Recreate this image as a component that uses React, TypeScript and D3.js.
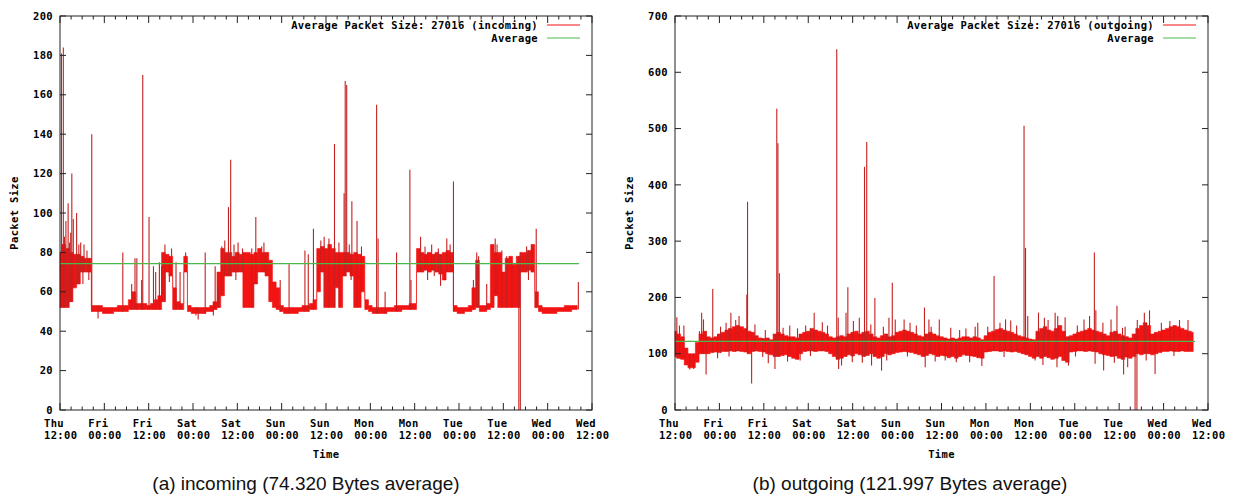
import React from 'react';
import * as d3 from 'd3';

// ---------- data (hours since Thu 12:00) ----------
const DAYS = ['Thu', 'Fri', 'Fri', 'Sat', 'Sat', 'Sun', 'Sun', 'Mon', 'Mon', 'Tue', 'Tue', 'Wed', 'Wed'];
const TIMES = ['12:00', '00:00', '12:00', '00:00', '12:00', '00:00', '12:00', '00:00', '12:00', '00:00', '12:00', '00:00', '12:00'];
const TICK_HOURS = [0, 12, 24, 36, 48, 60, 72, 84, 96, 108, 120, 132, 144];
const DATA_END = 140.5;

const Y_TICKS_IN = [0, 20, 40, 60, 80, 100, 120, 140, 160, 180, 200];
const Y_TICKS_OUT = [0, 100, 200, 300, 400, 500, 600, 700];

// incoming: hourly low / high envelope of the packet size
const IN_LOW = [
  52, 52, 52, 55, 62, 64, 70, 70, 70, 50, 50, 50, 49, 49, 49, 50, 50, 50, 50, 51,
  51, 51, 51, 51, 51, 51, 51, 51, 55, 70, 68, 51, 51, 51, 70, 50, 49, 49, 49, 49,
  50, 50, 51, 52, 58, 68, 68, 70, 70, 70, 52, 52, 52, 64, 70, 70, 68, 55, 52, 51,
  50, 49, 49, 49, 49, 50, 50, 50, 51, 51, 60, 70, 52, 52, 52, 62, 52, 68, 70, 68,
  52, 52, 60, 51, 50, 49, 49, 49, 49, 50, 50, 50, 50, 51, 51, 51, 51, 70, 70, 71,
  70, 71, 70, 69, 66, 70, 70, 50, 49, 49, 50, 50, 51, 52, 50, 50, 51, 52, 58, 52,
  52, 52, 52, 52, 52, 70, 70, 71, 70, 52, 50, 49, 49, 49, 49, 50, 50, 50, 50, 51, 51,
];
const IN_HIGH = [
  80, 84, 82, 80, 79, 79, 78, 77, 77, 53, 53, 53, 52, 52, 52, 52, 53, 53, 53, 56,
  60, 54, 54, 54, 53, 54, 56, 58, 80, 79, 78, 62, 55, 54, 78, 53, 52, 52, 52, 52,
  52, 53, 55, 70, 82, 80, 80, 78, 80, 79, 80, 80, 79, 80, 82, 80, 80, 76, 65, 62,
  53, 52, 52, 52, 52, 52, 53, 53, 54, 56, 82, 83, 82, 84, 82, 80, 80, 80, 80, 79,
  80, 79, 78, 56, 53, 52, 52, 52, 52, 52, 52, 53, 53, 53, 53, 54, 54, 82, 80, 79,
  80, 79, 80, 79, 80, 81, 80, 53, 52, 52, 52, 53, 62, 76, 53, 53, 54, 84, 80, 80,
  70, 77, 78, 74, 78, 80, 80, 81, 84, 60, 53, 52, 52, 52, 52, 52, 52, 53, 53, 53, 53,
];
const IN_SPIKE_HOURS = [
  0.4, 0.9, 1.6, 2.2, 2.6, 3.2, 3.6, 4.5, 5.6, 6.5, 8.6, 17, 19.4, 20.3, 20.8, 22.1, 22.4, 24.1,
  25.3, 25.9, 26.9, 27.5, 28.4, 31.4, 32.5, 34, 39.3, 42, 42.9, 43.8, 45.6, 46.2, 48.2, 49.4,
  51.9, 53, 54.6, 55.7, 59.6, 62, 66.3, 67.2, 68.6, 71.5, 74.3, 76.9, 77.2, 77.6, 79, 80.4,
  85.7, 86.1, 88, 91.1, 94.7, 95, 97.6, 104.7, 106.5, 111.9, 112.8, 115.5, 117.8, 119.6,
  120.9, 122.3, 125.4, 128.9, 140.3,
  1.2, 2.9, 5.1, 7.3, 30.2, 44.6, 47.1, 55.2, 70.6, 72.8, 75.5, 78.3, 81.6, 98.8, 100.6, 102.4,
  105.6, 113.3, 118.3, 126.3, 127.7,
];
const IN_SPIKE_VALUES = [
  181, 184, 96, 105, 85, 120, 97, 100, 85, 84, 140, 80, 64, 77, 77, 66, 170, 98,
  73, 70, 75, 73, 84, 75, 70, 80, 80, 73, 63, 83, 103, 127, 85, 82,
  82, 98, 83, 80, 66, 74, 81, 79, 92, 88, 135, 110, 167, 165, 106, 96,
  155, 87, 60, 80, 122, 66, 88, 87, 116, 66, 80, 64, 87, 81,
  78, 75, 78, 92, 65,
  88, 90, 84, 81, 82, 86, 84, 85, 86, 87, 85, 84, 83, 83, 84, 82,
  84, 78, 84, 83, 84,
];
const IN_DIP_HOURS = [10.3, 36.8, 37.4, 41.5, 56.2, 99.5, 103, 124.2, 124.6, 6.2, 7.8, 29.6, 47.6, 78.8, 101.3, 126.8];
const IN_DIP_VALUES = [46.5, 48, 46, 48, 71, 66, 63, 0, 0, 64, 66, 65, 66, 66, 68, 66];

// outgoing: hourly low / high envelope of the packet size
const OUT_LOW = [
  95, 92, 90, 80, 75, 75, 85, 100, 100, 100, 102, 103, 102, 104, 104, 105, 104, 105, 104, 103,
  100, 104, 105, 104, 103, 100, 98, 95, 95, 97, 98, 95, 92, 90, 100, 104, 105, 105, 104, 105,
  105, 104, 100, 95, 90, 92, 95, 98, 96, 100, 98, 95, 97, 100, 95, 92, 95, 100, 98, 100,
  102, 103, 104, 103, 102, 100, 98, 95, 97, 100, 98, 95, 97, 96, 93, 95, 92, 95, 98, 97,
  96, 95, 93, 92, 103, 104, 105, 105, 104, 105, 104, 103, 104, 102, 100, 98, 95, 92, 95, 92,
  95, 93, 90, 92, 95, 88, 85, 103, 104, 105, 105, 104, 105, 104, 103, 100, 98, 97, 95, 96,
  92, 90, 94, 92, 95, 100, 98, 100, 100, 98, 100, 102, 104, 104, 105, 104, 104, 105, 104, 104, 104,
];
const OUT_HIGH = [
  140, 135, 130, 110, 100, 100, 120, 135, 140, 130, 128, 130, 135, 138, 142, 145, 148, 150, 148, 145,
  140, 138, 132, 128, 127, 128, 125, 135, 138, 135, 132, 130, 130, 128, 135, 138, 140, 145, 142, 140,
  138, 135, 130, 128, 130, 132, 130, 135, 138, 140, 135, 138, 140, 135, 130, 128, 132, 135, 130, 132,
  138, 140, 142, 140, 138, 135, 132, 130, 135, 138, 135, 132, 130, 128, 126, 128, 126, 128, 130, 130,
  128, 130, 128, 125, 132, 138, 140, 143, 145, 142, 140, 138, 135, 132, 130, 128, 126, 125, 140, 145,
  148, 142, 140, 145, 150, 140, 130, 132, 135, 138, 140, 142, 145, 142, 140, 138, 135, 132, 138, 140,
  135, 132, 130, 128, 135, 145, 150, 155, 150, 135, 138, 140, 142, 145, 148, 150, 148, 145, 142, 140, 138,
];
const OUT_SPIKE_HOURS = [
  0.5, 1.2, 7.2, 7.7, 10.2, 15.1, 17.3, 19.4, 19.6, 27.5, 27.8, 28.2, 29.2, 31, 37.6, 43.7, 44.1,
  46.2, 46.7, 48.2, 49.8, 51.2, 51.8, 54, 57.8, 58.7, 59.5, 61.9, 67.4, 68.6, 69.2, 71.4, 74.5,
  81.1, 81.8, 86.2, 87.8, 89.3, 90.7, 94.3, 94.7, 95.3, 98.2, 99.8, 102.7, 103.4, 110.5, 112,
  113.3, 113.7, 115.6, 117.8, 119.4, 120.9, 121.6, 126.8, 128.2, 136.3,
  2.4, 6.6, 12.3, 13.8, 16.4, 21.6, 24.4, 33.1, 35.3, 39.8, 41.2, 52.9, 56.3, 63.5, 65.2, 76.9,
  78.6, 84.5, 92.3, 100.8, 105.4, 108.7, 124.9, 131.4, 133.7, 138.6,
];
const OUT_SPIKE_VALUES = [
  165, 150, 173, 161, 215, 173, 167, 205, 370, 535, 474, 243, 146, 150, 173, 641, 164,
  173, 218, 158, 164, 432, 476, 199, 164, 226, 161, 161, 182, 161, 148, 161, 146,
  148, 155, 238, 155, 161, 159, 505, 288, 167, 173, 164, 173, 167, 161, 167,
  280, 177, 155, 161, 185, 146, 148, 173, 177, 160,
  150, 140, 148, 155, 160, 152, 142, 145, 150, 156, 150, 152, 148, 155, 150, 142,
  145, 148, 150, 160, 165, 150, 160, 155, 158, 160,
];
const OUT_DIP_HOURS = [
  4, 5, 8.4, 20.7, 25.2, 27, 33.8, 44.2, 45, 53.1, 55.8, 67.6, 73, 76, 82.9, 97.3, 103.2,
  106.3, 113.5, 115.8, 121.2, 122.3, 124.3, 124.8, 129.7,
  11.5, 14.6, 23.7, 30.4, 36.6, 47.9, 50.6, 57.2, 62.8, 70.3, 79.6, 88.9, 99.4, 108.2, 118.7, 127.3, 134.8,
];
const OUT_DIP_VALUES = [
  72, 73, 63, 47, 83, 73, 88, 73, 79, 79, 70, 76, 88, 85, 78, 88, 76,
  79, 82, 70, 63, 76, 0, 0, 64,
  92, 95, 94, 86, 96, 85, 84, 88, 95, 86, 85, 94, 80, 95, 84, 88, 96,
];

const IN_AVG = 74.32;
const OUT_AVG = 121.997;

// ---------- styling ----------
const MONO = "'DejaVu Sans Mono', 'Liberation Mono', monospace";
const SANS = "'Liberation Sans', Arial, sans-serif";
const RED = '#f21313';
const SPIKE_RED = '#c42020';
const GREEN = '#4cb84c';

type ChartProps = {
  left: number;
  right: number;
  top: number;
  bottom: number;
  yMax: number;
  yTicks: number[];
  lows: number[];
  highs: number[];
  spikeHours: number[];
  spikeValues: number[];
  dipHours: number[];
  dipValues: number[];
  avg: number;
  legend: string;
  caption: string;
  captionX: number;
};

function Chart(p: ChartProps) {
  const x = d3.scaleLinear().domain([0, 144]).range([p.left, p.right]);
  const y = d3.scaleLinear().domain([0, p.yMax]).range([p.bottom, p.top]);
  const hours = d3.range(p.lows.length);
  const area = d3
    .area<number>()
    .curve(d3.curveStep)
    .x((h) => x(h))
    .y0((h) => y(p.lows[h]))
    .y1((h) => y(p.highs[h]));
  const bucket = (h: number) => Math.max(0, Math.min(p.lows.length - 1, Math.round(h)));
  const minor = d3.range(0, 145, 3).filter((h) => h % 12 !== 0);
  const fs = 10.5;
  const ls = 0.35;
  const cx = (p.left + p.right) / 2;
  const cy = (p.top + p.bottom) / 2;
  return (
    <g>
      {/* data band */}
      <path d={area(hours) || ''} fill={RED} stroke={RED} strokeWidth={0.6} />
      {p.spikeHours.map((h, i) => (
        <line
          key={'s' + i}
          x1={x(h)}
          x2={x(h)}
          y1={y(p.lows[bucket(h)])}
          y2={y(p.spikeValues[i])}
          stroke={SPIKE_RED}
          strokeWidth={1.1}
        />
      ))}
      {p.dipHours.map((h, i) => (
        <line
          key={'d' + i}
          x1={x(h)}
          x2={x(h)}
          y1={y(p.highs[bucket(h)])}
          y2={y(p.dipValues[i])}
          stroke={SPIKE_RED}
          strokeWidth={1.1}
        />
      ))}
      {/* average */}
      <line x1={x(0)} x2={x(DATA_END)} y1={y(p.avg)} y2={y(p.avg)} stroke={GREEN} strokeWidth={1.3} />

      {/* frame */}
      <rect x={p.left} y={p.top} width={p.right - p.left} height={p.bottom - p.top} fill="none" stroke="#222" strokeWidth={1} />

      {/* y ticks */}
      {p.yTicks.map((v) => (
        <g key={'y' + v}>
          <line x1={p.left} x2={p.left + 6} y1={y(v)} y2={y(v)} stroke="#222" />
          <line x1={p.right - 6} x2={p.right} y1={y(v)} y2={y(v)} stroke="#222" />
          <text
            x={p.left - 7}
            y={y(v)}
            dy="0.35em"
            textAnchor="end"
            fontFamily={MONO}
            fontWeight="bold"
            fontSize={fs}
            letterSpacing={ls}
          >
            {v}
          </text>
        </g>
      ))}

      {/* x ticks */}
      {TICK_HOURS.map((h, i) => (
        <g key={'x' + h}>
          <line x1={x(h)} x2={x(h)} y1={p.bottom} y2={p.bottom - 7} stroke="#222" />
          <line x1={x(h)} x2={x(h)} y1={p.top} y2={p.top + 7} stroke="#222" />
          <text x={x(h) - 16} y={p.bottom + 17} fontFamily={MONO} fontWeight="bold" fontSize={fs} letterSpacing={ls}>
            {DAYS[i]}
          </text>
          <text x={x(h) - 16} y={p.bottom + 29} fontFamily={MONO} fontWeight="bold" fontSize={fs} letterSpacing={ls}>
            {TIMES[i]}
          </text>
        </g>
      ))}
      {minor.map((h) => (
        <g key={'m' + h}>
          <line x1={x(h)} x2={x(h)} y1={p.bottom} y2={p.bottom - 3.5} stroke="#222" />
          <line x1={x(h)} x2={x(h)} y1={p.top} y2={p.top + 3.5} stroke="#222" />
        </g>
      ))}

      {/* axis titles */}
      <text x={cx} y={p.bottom + 48} textAnchor="middle" fontFamily={MONO} fontWeight="bold" fontSize={fs} letterSpacing={ls}>
        Time
      </text>
      <text
        transform={`translate(${p.left - 46},${cy}) rotate(-90)`}
        textAnchor="middle"
        dy="0.35em"
        fontFamily={MONO}
        fontWeight="bold"
        fontSize={fs}
        letterSpacing={ls}
      >
        Packet Size
      </text>

      {/* legend */}
      <text x={p.right - 54} y={p.top + 13} textAnchor="end" fontFamily={MONO} fontWeight="bold" fontSize={fs} letterSpacing={ls}>
        {p.legend}
      </text>
      <line x1={p.right - 45} x2={p.right - 12} y1={p.top + 9} y2={p.top + 9} stroke={RED} strokeWidth={1} />
      <text x={p.right - 54} y={p.top + 26} textAnchor="end" fontFamily={MONO} fontWeight="bold" fontSize={fs} letterSpacing={ls}>
        Average
      </text>
      <line x1={p.right - 45} x2={p.right - 12} y1={p.top + 22} y2={p.top + 22} stroke={GREEN} strokeWidth={1} />

      {/* caption */}
      <text x={p.captionX} y={490} textAnchor="middle" fontFamily={SANS} fontSize={19} fill="#111">
        {p.caption}
      </text>
    </g>
  );
}

export default function App() {
  return (
    <svg
      width={1239}
      height={498}
      viewBox="0 0 1239 498"
      style={{ position: 'absolute', left: 0, top: 0, background: '#fff' }}
    >
      <rect x={0} y={0} width={1239} height={498} fill="#fff" />
      <Chart
        left={60}
        right={592}
        top={16}
        bottom={410}
        yMax={200}
        yTicks={Y_TICKS_IN}
        lows={IN_LOW}
        highs={IN_HIGH}
        spikeHours={IN_SPIKE_HOURS}
        spikeValues={IN_SPIKE_VALUES}
        dipHours={IN_DIP_HOURS}
        dipValues={IN_DIP_VALUES}
        avg={IN_AVG}
        legend="Average Packet Size: 27016 (incoming)"
        caption="(a)  incoming (74.320 Bytes average)"
        captionX={306}
      />
      <Chart
        left={675}
        right={1208}
        top={16}
        bottom={410}
        yMax={700}
        yTicks={Y_TICKS_OUT}
        lows={OUT_LOW}
        highs={OUT_HIGH}
        spikeHours={OUT_SPIKE_HOURS}
        spikeValues={OUT_SPIKE_VALUES}
        dipHours={OUT_DIP_HOURS}
        dipValues={OUT_DIP_VALUES}
        avg={OUT_AVG}
        legend="Average Packet Size: 27016 (outgoing)"
        caption="(b)  outgoing (121.997 Bytes average)"
        captionX={910}
      />
    </svg>
  );
}
